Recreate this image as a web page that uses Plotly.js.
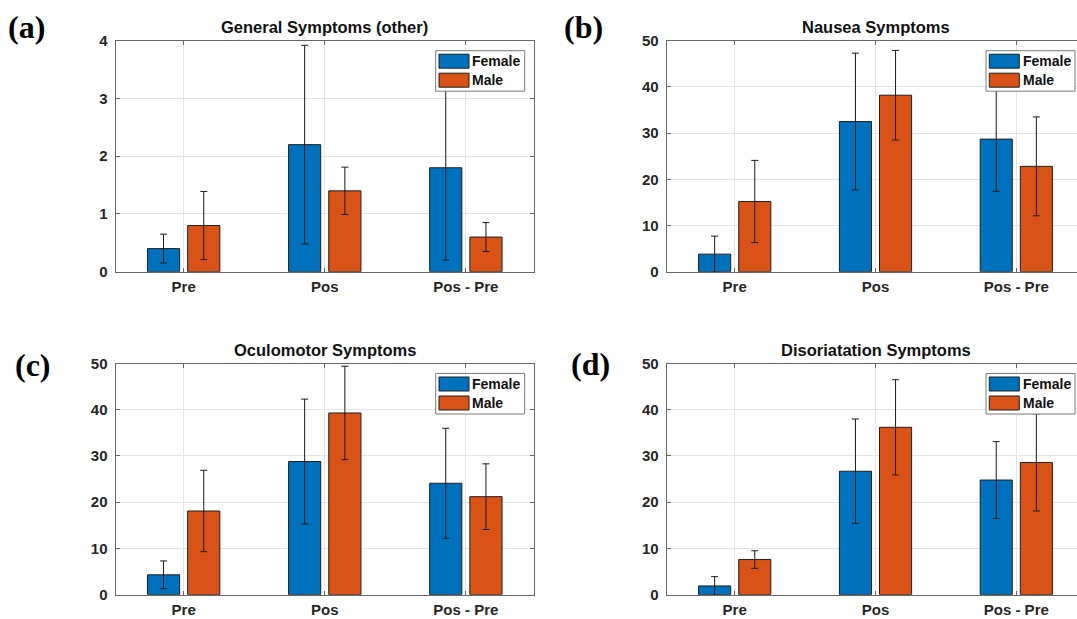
<!DOCTYPE html>
<html>
<head>
<meta charset="utf-8">
<script src="https://cdn.plot.ly/plotly-3.0.1.min.js"></script>
<style>
  html, body { margin: 0; padding: 0; overflow: hidden; background: #fff; }
  #chart { width: 1090px; height: 619px; }
</style>
</head>
<body>
<div id="chart"></div>
<script>
// ---- data ----
const categories = ['Pre', 'Pos', 'Pos - Pre'];
const seriesNames = ['Female', 'Male'];

const panelTitles = ['General Symptoms (other)', 'Nausea Symptoms', 'Oculomotor Symptoms', 'Disoriatation Symptoms'];
const panelLetters = ['(a)', '(b)', '(c)', '(d)'];

const generalFemale = [0.4, 2.2, 1.8];
const generalFemaleErr = [0.25, 1.72, 1.6];
const generalMale = [0.8, 1.4, 0.6];
const generalMaleErr = [0.59, 0.41, 0.25];

const nauseaFemale = [3.8, 32.5, 28.7];
const nauseaFemaleErr = [3.9, 14.8, 11.3];
const nauseaMale = [15.2, 38.2, 22.8];
const nauseaMaleErr = [8.9, 9.7, 10.7];

const oculoFemale = [4.3, 28.8, 24.1];
const oculoFemaleErr = [3.0, 13.5, 11.9];
const oculoMale = [18.1, 39.3, 21.2];
const oculoMaleErr = [8.8, 10.1, 7.1];

const disorFemale = [1.9, 26.7, 24.8];
const disorFemaleErr = [2.0, 11.3, 8.3];
const disorMale = [7.6, 36.2, 28.6];
const disorMaleErr = [1.9, 10.3, 10.5];

const yMax = [4, 50, 50, 50];
const yStep = [1, 10, 10, 10];

// ---- layout geometry (pixels) ----
const W = 1090, H = 619;
const geom = [
  {l: 115.5, r: 534,    t: 40.7,  b: 271.7, lx: 26.5,  ly: 27.5},
  {l: 666.7, r: 1084.3, t: 40.7,  b: 271.7, lx: 583.7, ly: 27.5},
  {l: 115.5, r: 534,    t: 363.5, b: 594.7, lx: 32.8,  ly: 364.7},
  {l: 666.7, r: 1084.3, t: 363.5, b: 594.7, lx: 591,   ly: 363.8}
];
const px = v => v / W;
const py = v => 1 - v / H;

const femaleVals = [generalFemale, nauseaFemale, oculoFemale, disorFemale];
const femaleErrs = [generalFemaleErr, nauseaFemaleErr, oculoFemaleErr, disorFemaleErr];
const maleVals = [generalMale, nauseaMale, oculoMale, disorMale];
const maleErrs = [generalMaleErr, nauseaMaleErr, oculoMaleErr, disorMaleErr];

const colors = ['#0072BD', '#D95319'];
const tickFont = {family: 'Liberation Sans, Arial, sans-serif', size: 15, color: '#262626', weight: 700};
const axisLine = '#666666';
const gridCol = '#e4e4e4';

const traces = [];
const layout = {
  width: W, height: H,
  margin: {l: 0, r: 0, t: 0, b: 0},
  paper_bgcolor: '#ffffff',
  plot_bgcolor: '#ffffff',
  showlegend: false,
  barmode: 'group',
  bargap: 0.43,
  bargroupgap: 0.2,
  annotations: [],
  shapes: []
};

for (let i = 0; i < 4; i++) {
  const n = i === 0 ? '' : String(i + 1);
  const g = geom[i];
  const vals = [femaleVals[i], maleVals[i]];
  const errs = [femaleErrs[i], maleErrs[i]];
  for (let s = 0; s < 2; s++) {
    traces.push({
      type: 'bar',
      name: seriesNames[s],
      x: categories,
      y: vals[s],
      xaxis: 'x' + n,
      yaxis: 'y' + n,
      marker: {color: colors[s], line: {color: '#1f1f1f', width: 1}},
      error_y: {type: 'data', array: errs[s], visible: true, color: '#1a1a1a', thickness: 1, width: 3.5},
      hoverinfo: 'skip'
    });
  }
  layout['xaxis' + n] = {
    domain: [px(g.l), px(g.r)],
    anchor: 'y' + n,
    type: 'category',
    range: [-0.483, 2.483],
    showgrid: true, gridcolor: gridCol, gridwidth: 1,
    showline: true, linecolor: axisLine, linewidth: 1, mirror: 'allticks',
    ticks: 'inside', ticklen: 4, tickcolor: axisLine,
    tickfont: tickFont,
    ticklabelstandoff: 1,
    zeroline: false, fixedrange: true
  };
  layout['yaxis' + n] = {
    domain: [py(g.b), py(g.t)],
    anchor: 'x' + n,
    range: [0, yMax[i]],
    tick0: 0, dtick: yStep[i],
    showgrid: true, gridcolor: gridCol, gridwidth: 1,
    showline: true, linecolor: axisLine, linewidth: 1, mirror: 'allticks',
    ticks: 'inside', ticklen: 4, tickcolor: axisLine,
    tickfont: tickFont,
    ticklabelstandoff: 4,
    zeroline: false, fixedrange: true
  };

  // subplot title
  layout.annotations.push({
    text: panelTitles[i],
    xref: 'x' + n, yref: 'paper',
    x: categories[1], y: py(g.t - (i < 2 ? 14 : 13.5)),
    xanchor: 'center', yanchor: 'middle', showarrow: false,
    font: {family: 'Liberation Sans, Arial, sans-serif', size: 16.5, color: '#111', weight: 700}
  });
  // panel letter
  layout.annotations.push({
    text: panelLetters[i],
    xref: 'paper', yref: 'paper',
    x: px(g.lx), y: py(g.ly),
    xanchor: 'center', yanchor: 'middle', showarrow: false,
    font: {family: 'Liberation Serif, Times New Roman, serif', size: 32, color: '#000', weight: 700}
  });

  // legend box (drawn with shapes above the bars)
  const bx0 = g.r - 98.3, bx1 = g.r - 9.3;
  const by0 = g.t + 10, by1 = g.t + 50.5;
  layout.shapes.push({
    type: 'rect', xref: 'paper', yref: 'paper', layer: 'above',
    x0: px(bx0), x1: px(bx1), y0: py(by0), y1: py(by1),
    fillcolor: '#ffffff', line: {color: '#7a7a7a', width: 1}
  });
  const sw = [[13.5, 27.5], [32.5, 46.5]];
  for (let s = 0; s < 2; s++) {
    layout.shapes.push({
      type: 'rect', xref: 'paper', yref: 'paper', layer: 'above',
      x0: px(bx0 + 3.3), x1: px(bx0 + 33.3),
      y0: py(g.t + sw[s][0]), y1: py(g.t + sw[s][1]),
      fillcolor: colors[s], line: {color: '#1f1f1f', width: 1}
    });
    layout.annotations.push({
      text: seriesNames[s],
      xref: 'paper', yref: 'paper',
      x: px(bx0 + 34.5), y: py(g.t + (sw[s][0] + sw[s][1]) / 2),
      xanchor: 'left', yanchor: 'middle', showarrow: false,
      font: {family: 'Liberation Sans, Arial, sans-serif', size: 14, color: '#111', weight: 700}
    });
  }
}

Plotly.newPlot('chart', traces, layout, {staticPlot: true, displayModeBar: false});
</script>
</body>
</html>
